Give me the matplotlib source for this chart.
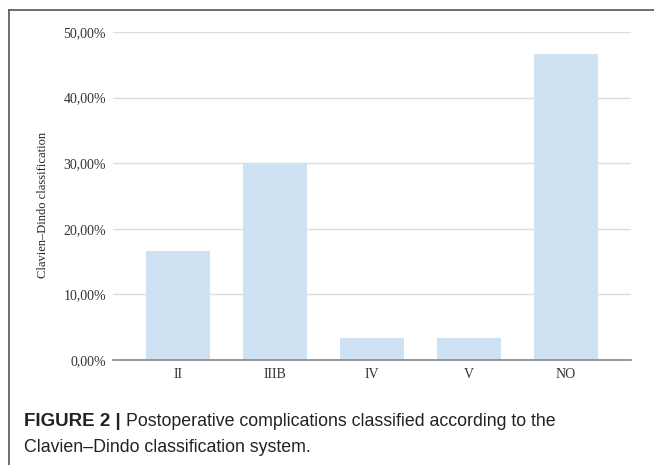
import matplotlib
matplotlib.use('Agg')
import matplotlib.pyplot as plt
from matplotlib.lines import Line2D
from matplotlib.ticker import FuncFormatter

categories = ['II', 'IIIB', 'IV', 'V', 'NO']
values = [16.67, 30.0, 3.33, 3.33, 46.67]
yticks = [0, 10, 20, 30, 40, 50]

fig = plt.figure(figsize=(6.54, 4.65), dpi=100)
ax = fig.add_axes([113/654, 1 - 360/465, (631-113)/654, (360-32)/465])

ax.bar(range(len(categories)), values, width=0.65, color='#cfe2f3', zorder=2)
ax.set_xlim(-0.67, len(categories) - 0.33)
ax.set_ylim(0, 50)
ax.set_yticks(yticks)
ax.yaxis.set_major_formatter(FuncFormatter(lambda v, p: ('%.2f%%' % v).replace('.', ',')))
ax.set_xticks(range(len(categories)))
ax.set_xticklabels(categories)

serif = 'Liberation Serif'
for lbl in ax.get_xticklabels() + ax.get_yticklabels():
    lbl.set_family(serif)
    lbl.set_fontsize(10)
    lbl.set_color('#333333')

ax.grid(axis='y', color='#dddddd', linewidth=1, zorder=0)
ax.tick_params(axis='y', length=0, pad=5)
ax.tick_params(axis='x', length=0, pad=6)
for s in ['top', 'right', 'left']:
    ax.spines[s].set_visible(False)
ax.spines['bottom'].set_color('#888888')
ax.spines['bottom'].set_linewidth(1.2)
ax.spines['bottom'].set_zorder(3)

fig.text(43/654, 1 - 205/465, 'Clavien\u2013Dindo classification', rotation=90,
         ha='center', va='center', family=serif, fontsize=9, color='#222222')

# frame around figure
fig.add_artist(Line2D([9/654, 9/654], [0, 1 - 10/465], color='#555555', lw=1.2))
fig.add_artist(Line2D([9/654, 1], [1 - 10/465, 1 - 10/465], color='#555555', lw=1.2))

# caption
t1 = fig.text(24/654, 1 - 421/465, 'FIGURE 2 | ', fontsize=13.5, weight='bold',
              family='Liberation Sans', va='center', color='#222222')
fig.canvas.draw()
bb = t1.get_window_extent()
fig.text(bb.x1 / fig.bbox.width, 1 - 421/465,
         'Postoperative complications classified according to the',
         fontsize=12.8, family='Liberation Sans', va='center', color='#222222')
fig.text(24/654, 1 - 447/465, 'Clavien\u2013Dindo classification system.',
         fontsize=12.8, family='Liberation Sans', va='center', color='#222222')

fig.savefig('out.png', dpi=100)
